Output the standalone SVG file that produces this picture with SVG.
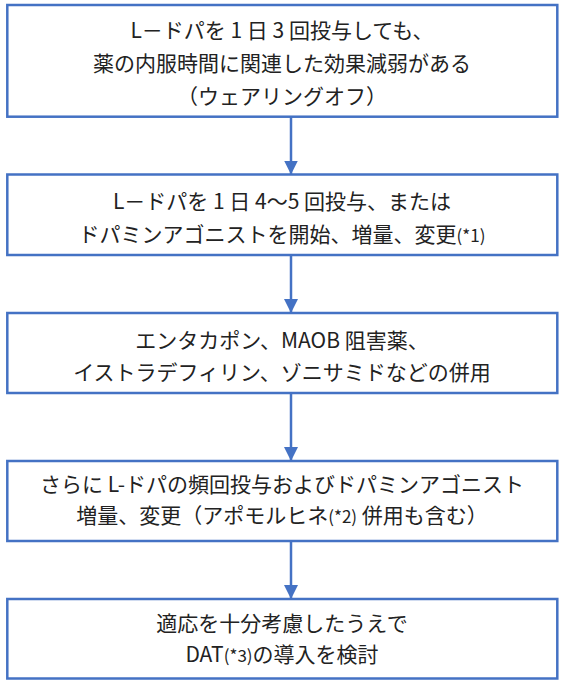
<svg xmlns="http://www.w3.org/2000/svg" width="566" height="688" viewBox="0 0 566 688">
<style>
.box{fill:#ffffff;stroke:#4472C4;stroke-width:2.5}
.t{font-family:"Noto Sans CJK JP","Noto Sans",sans-serif;font-size:21px;fill:#222222;text-anchor:middle}
.s{font-size:17px}
.c{stroke:#4472C4;stroke-width:2.5;fill:none}
</style>
<defs>
<marker id="ah" markerUnits="userSpaceOnUse" markerWidth="14" markerHeight="14" refX="14" refY="7" orient="auto" viewBox="0 0 14 14">
<path d="M0,0 L14,7 L0,14 z" fill="#4472C4"/>
</marker>
</defs>
<rect width="566" height="688" fill="#ffffff"/>
<g id="node1">
<rect class="box" x="7.3" y="5" width="550" height="111.7"/>
<text class="t" x="282" y="37.5">L－ドパを 1 日 3 回投与しても、</text>
<text class="t" x="282" y="70.5">薬の内服時間に関連した効果減弱がある</text>
<text class="t" x="282" y="103.5">（ウェアリングオフ）</text>
</g>
<g id="node2">
<rect class="box" x="7.3" y="174.5" width="550" height="80.5"/>
<text class="t" x="282" y="208.5">L－ドパを 1 日 4〜5 回投与、または</text>
<text class="t" x="282" y="241.5">ドパミンアゴニストを開始、増量、変更<tspan class="s">(*1)</tspan></text>
</g>
<g id="node3">
<rect class="box" x="7.3" y="313" width="550" height="80"/>
<text class="t" x="282" y="348">エンタカポン、MAOB 阻害薬、</text>
<text class="t" x="282" y="380">イストラデフィリン、ゾニサミドなどの併用</text>
</g>
<g id="node4">
<rect class="box" x="7.3" y="461" width="550" height="80"/>
<text class="t" x="282" y="491.5">さらに L-ドパの頻回投与およびドパミンアゴニスト</text>
<text class="t" x="282" y="523">増量、変更（アポモルヒネ<tspan class="s">(*2)</tspan> 併用も含む）</text>
</g>
<g id="node5">
<rect class="box" x="7.3" y="599" width="550" height="79.5"/>
<text class="t" x="282" y="630.5">適応を十分考慮したうえで</text>
<text class="t" x="282" y="661.5">DAT<tspan class="s">(*3)</tspan>の導入を検討</text>
</g>
<g id="connectors">
<line class="c" x1="291" y1="116.7" x2="291" y2="174.5" marker-end="url(#ah)"/>
<line class="c" x1="291" y1="255" x2="291" y2="313" marker-end="url(#ah)"/>
<line class="c" x1="291" y1="393" x2="291" y2="461" marker-end="url(#ah)"/>
<line class="c" x1="291" y1="541" x2="291" y2="599" marker-end="url(#ah)"/>
</g>
</svg>
